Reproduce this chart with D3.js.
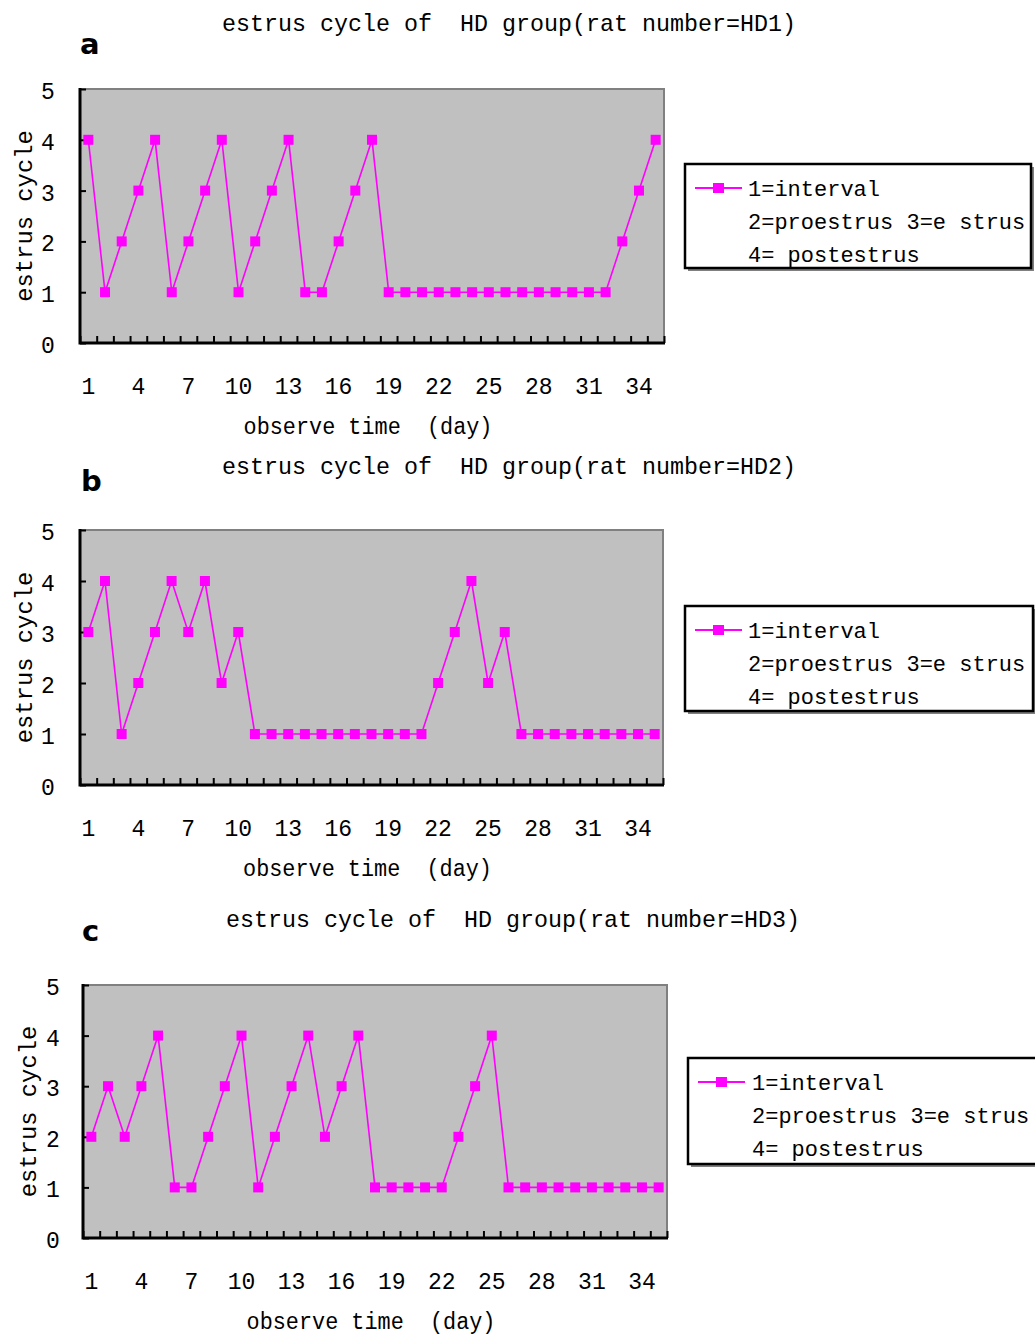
<!DOCTYPE html>
<html><head><meta charset="utf-8">
<script src="https://cdn.jsdelivr.net/npm/d3@7"></script>
<style>
body{margin:0;background:#fff}
svg{display:block}
text{font-family:"Liberation Mono","DejaVu Sans Mono",monospace;fill:#000;white-space:pre}
</style>
</head><body>
<svg id="chart" width="1035" height="1337"></svg>
<script>
// ---- data ----
const days = d3.range(1, 36);
const tickDays = [1, 4, 7, 10, 13, 16, 19, 22, 25, 28, 31, 34];
const yTicks = [0, 1, 2, 3, 4, 5];
const ratIds = ["HD1", "HD2", "HD3"];
const panelLetters = ["a", "b", "c"];
const hd1 = [4,1,2,3,4,1,2,3,4,1,2,3,4,1,1,2,3,4,1,1,1,1,1,1,1,1,1,1,1,1,1,1,2,3,4];
const hd2 = [3,4,1,2,3,4,3,4,2,3,1,1,1,1,1,1,1,1,1,1,1,2,3,4,2,3,1,1,1,1,1,1,1,1,1];
const hd3 = [2,3,2,3,4,1,1,2,3,4,1,2,3,4,2,3,4,1,1,1,1,1,2,3,4,1,1,1,1,1,1,1,1,1,1];
const seriesList = [hd1, hd2, hd3];
const legendLines = ["1=interval", "2=proestrus 3=e strus", "4= postestrus"];
const xTitle = "observe time  (day)";
const yTitle = "estrus cycle";

// ---- layout ----
const layout = [
  {left:80, right:664, top:89, bottom:343, titleX:509, titleY:31, letterX:80, letterY:54, yTitleX:32, yLabX:48,
   legend:{x:685, y:164, w:346, h:104, tx:748}},
  {left:80, right:663, top:530, bottom:785, titleX:509, titleY:474, letterX:81, letterY:491, yTitleX:32, yLabX:48,
   legend:{x:685, y:606, w:348, h:105, tx:748}},
  {left:83, right:667, top:985, bottom:1238, titleX:513, titleY:927, letterX:82, letterY:941, yTitleX:36, yLabX:53,
   legend:{x:688, y:1058, w:352, h:106, tx:752}}
];
const MAG = "#ff00ff";

const svg = d3.select("#chart");

layout.forEach((L, i) => {
  const data = seriesList[i];
  const g = svg.append("g");
  const x = d3.scaleLinear().domain([0.5, 35.5]).range([L.left, L.right]);
  const y = d3.scaleLinear().domain([0, 5]).range([L.bottom, L.top]);

  // title
  const title = "estrus cycle of  HD group(rat number=" + ratIds[i] + ")";
  g.append("text").attr("x", L.titleX).attr("y", L.titleY)
    .attr("xml:space", "preserve")
    .attr("text-anchor", "middle").style("font-size", "24px")
    .attr("textLength", title.length * 14.0).attr("lengthAdjust", "spacingAndGlyphs")
    .text(title);

  // panel letter
  g.append("text").attr("x", L.letterX).attr("y", L.letterY)
    .style("font-family", "'DejaVu Sans',sans-serif").style("font-weight", "bold").style("font-size", "29px")
    .text(panelLetters[i]);

  // plot background
  g.append("rect").attr("x", L.left).attr("y", L.top)
    .attr("width", L.right - L.left).attr("height", L.bottom - L.top)
    .attr("fill", "#c0c0c0");
  // top & right border
  g.append("path").attr("d", `M${L.left},${L.top}H${L.right}V${L.bottom}`)
    .attr("fill", "none").attr("stroke", "#808080").attr("stroke-width", 2);

  // x ticks at category boundaries (inside)
  const xAx = g.append("g").attr("transform", `translate(0,${L.bottom})`)
    .call(d3.axisBottom(x).tickValues(d3.range(0.5, 36, 1)).tickSize(-7).tickFormat(""));
  xAx.select(".domain").remove();
  xAx.selectAll(".tick line").attr("stroke", "#000").attr("stroke-width", 2);

  // y ticks (inside)
  const yAx = g.append("g").attr("transform", `translate(${L.left},0)`)
    .call(d3.axisLeft(y).tickValues(yTicks).tickSize(-6).tickFormat(""));
  yAx.select(".domain").remove();
  yAx.selectAll(".tick line").attr("stroke", "#000").attr("stroke-width", 2);

  // axis lines
  g.append("path").attr("d", `M${L.left},${L.top - 1}V${L.bottom}H${L.right + 1}`)
    .attr("fill", "none").attr("stroke", "#000").attr("stroke-width", 3);

  // x tick labels
  g.selectAll(".xl").data(tickDays).enter().append("text")
    .attr("x", d => x(d)).attr("y", L.bottom + 51)
    .attr("text-anchor", "middle").style("font-size", "23px").text(d => d);
  // y tick labels
  g.selectAll(".yl").data(yTicks).enter().append("text")
    .attr("x", L.yLabX).attr("y", d => y(d) + 10)
    .attr("text-anchor", "middle").style("font-size", "23px").text(d => d);

  // axis titles
  g.append("text").attr("x", (L.left + L.right) / 2 - 4).attr("y", L.bottom + 91)
    .attr("xml:space", "preserve")
    .attr("text-anchor", "middle").style("font-size", "23px")
    .attr("textLength", xTitle.length * 13.1).attr("lengthAdjust", "spacingAndGlyphs")
    .text(xTitle);
  g.append("text")
    .attr("transform", `translate(${L.yTitleX},${(L.top + L.bottom) / 2}) rotate(-90)`)
    .attr("text-anchor", "middle").style("font-size", "23px")
    .attr("textLength", yTitle.length * 14.3).attr("lengthAdjust", "spacingAndGlyphs")
    .text(yTitle);

  // series line + markers
  const line = d3.line().x((d, k) => x(days[k])).y(d => y(d));
  g.append("path").datum(data).attr("d", line)
    .attr("fill", "none").attr("stroke", MAG).attr("stroke-width", 1.6);
  g.selectAll(".mk").data(data).enter().append("rect")
    .attr("x", (d, k) => x(days[k]) - 5).attr("y", d => y(d) - 5)
    .attr("width", 10).attr("height", 10).attr("fill", MAG);

  // legend
  const lg = L.legend;
  g.append("rect").attr("x", lg.x + 3).attr("y", lg.y + 3).attr("width", lg.w).attr("height", lg.h).attr("fill", "#808080");
  g.append("rect").attr("x", lg.x).attr("y", lg.y).attr("width", lg.w).attr("height", lg.h)
    .attr("fill", "#fff").attr("stroke", "#000").attr("stroke-width", 2.5);
  const ly0 = lg.y + 24;
  g.append("line").attr("x1", lg.x + 10).attr("x2", lg.x + 57).attr("y1", ly0).attr("y2", ly0)
    .attr("stroke", MAG).attr("stroke-width", 2);
  g.append("rect").attr("x", lg.x + 28).attr("y", ly0 - 5).attr("width", 11).attr("height", 10).attr("fill", MAG);
  legendLines.forEach((t, k) => {
    g.append("text").attr("x", lg.tx).attr("y", ly0 + 8 + k * 33)
      .attr("xml:space", "preserve")
      .style("font-size", "22px")
      .text(t);
  });
});
</script>
</body></html>
